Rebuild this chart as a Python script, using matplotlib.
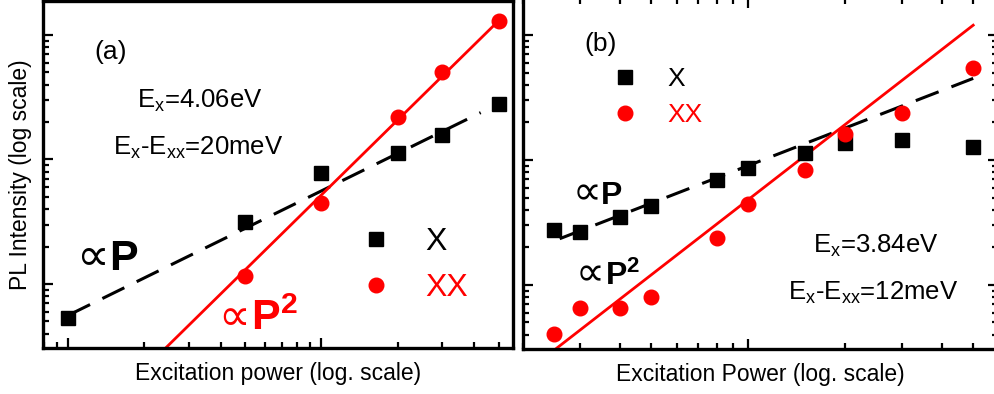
import numpy as np
import matplotlib
matplotlib.use('Agg')
import matplotlib.pyplot as plt

plt.rcParams['font.family'] = ['Liberation Sans', 'DejaVu Sans']
plt.rcParams['mathtext.fontset'] = 'custom'
plt.rcParams['mathtext.rm'] = 'Liberation Sans'
plt.rcParams['mathtext.it'] = 'Liberation Sans:italic'
plt.rcParams['mathtext.bf'] = 'Liberation Sans:bold'

# ---- datos panel (a) ----
a_x_power = [1, 5, 10, 20, 30, 50]
a_x_int = [5.3, 31.5, 78, 113, 157, 279]
a_xx_power = [5, 10, 20, 30, 50]
a_xx_int = [11.6, 44.7, 219, 503, 1290]
a_fit_x = [1, 42.5]        # I = 5.6 * P
a_fit_xx = [2.0, 52]       # I = 0.52 * P^2

# ---- datos panel (b) ----
b_power = [0.25, 0.3, 0.4, 0.5, 0.8, 1.0, 1.5, 2, 3, 5]
b_x_int = [27.7, 26.7, 35.2, 42.4, 69.7, 87, 113, 136, 144, 128]
b_xx_int = [4.04, 6.5, 6.5, 8.0, 23.8, 44, 82.4, 160, 236, 543]
b_fit_x = [0.26, 5.0]      # I = 90 * P
b_fit_xx = [0.24, 5.0]     # I = 48 * P^2

W, H = 995, 394
fig = plt.figure(figsize=(W / 100, H / 100), dpi=100)

def px(x, y):
    return x / W, 1 - y / H

ax1 = fig.add_axes([43 / W, 1 - 348 / H, 470 / W, 347 / H])
ax2 = fig.add_axes([523 / W, 1 - 349 / H, 475 / W, 351 / H])

red = '#ff0000'

# panel (a)
fx = np.array(a_fit_x)
ax1.plot(fx, 5.6 * fx, color='black', lw=2.2, dashes=(8, 4.5))
fxx = np.array(a_fit_xx)
ax1.plot(fxx, 0.52 * fxx ** 2, color=red, lw=2)
ax1.plot(a_x_power, a_x_int, 's', color='black', ms=10, label='X')
ax1.plot(a_xx_power, a_xx_int, 'o', color=red, ms=10.5, label='XX')
ax1.set_xlim(0.796, 57)
ax1.set_ylim(10 ** 0.486, 10 ** 3.273)

# panel (b)
bx = np.array(b_fit_x)
ax2.plot(bx, 90 * bx, color='black', lw=2.2, dashes=(8, 4.5))
bxx = np.array(b_fit_xx)
ax2.plot(bxx, 48 * bxx ** 2, color=red, lw=2)
ax2.plot(b_power, b_x_int, 's', color='black', ms=10, label='X')
ax2.plot(b_power, b_xx_int, 'o', color=red, ms=10.5, label='XX')
ax2.set_xlim(0.2, 5.97)
ax2.set_ylim(10 ** 0.486, 10 ** 3.297)

for ax in (ax1, ax2):
    ax.set_xscale('log')
    ax.set_yscale('log')
    for s in ax.spines.values():
        s.set_linewidth(2.4)
    ax.tick_params(which='both', direction='in', width=1.6,
                   labelbottom=False, labelleft=False)
    ax.tick_params(which='major', length=7)
    ax.tick_params(which='minor', length=4)
ax2.tick_params(which='both', top=True, right=True)

ax1.set_ylabel('PL Intensity (log scale)', fontsize=16.5)
ax1.yaxis.set_label_coords(-0.024, 0.5)
ax1.set_xlabel('Excitation power (log. scale)', fontsize=16.5)
ax1.xaxis.set_label_coords(0.5, -0.04)
ax2.set_xlabel('Excitation Power (log. scale)', fontsize=16.5)
ax2.xaxis.set_label_coords(0.5, -0.04)

# textos panel (a)
fig.text(*px(111, 52), '(a)', fontsize=19, ha='center', va='center')
fig.text(*px(137, 108), r'E$_\mathrm{x}$=4.06eV', fontsize=18.5, ha='left', va='baseline')
fig.text(*px(113, 155), r'E$_\mathrm{x}$-E$_\mathrm{xx}$=20meV', fontsize=18.5, ha='left', va='baseline')
fig.text(*px(109, 270), '\u221d', fontsize=33, ha='right', va='baseline')
fig.text(*px(109, 270), 'P', fontsize=31, fontweight='bold', ha='left', va='baseline')
fig.text(*px(250, 330), '\u221d', fontsize=32, ha='right', va='baseline', color=red)
fig.text(*px(251, 330), r'$\mathbf{P}^{\mathbf{2}}$', fontsize=31, ha='left', va='baseline', color=red)

leg1 = ax1.legend(loc='center left', bbox_to_anchor=px(360, 265), bbox_transform=fig.transFigure,
                  frameon=False, fontsize=23, handlelength=1.0, handletextpad=1.05,
                  labelspacing=0.5, labelcolor='linecolor', borderpad=0, borderaxespad=0)

# textos panel (b)
fig.text(*px(601, 44), '(b)', fontsize=19, ha='center', va='center')
fig.text(*px(813, 253), r'E$_\mathrm{x}$=3.84eV', fontsize=18.5, ha='left', va='baseline')
fig.text(*px(788, 300), r'E$_\mathrm{x}$-E$_\mathrm{xx}$=12meV', fontsize=18.5, ha='left', va='baseline')
fig.text(*px(601, 204), '\u221d', fontsize=29, ha='right', va='baseline')
fig.text(*px(601, 204), 'P', fontsize=23, fontweight='bold', ha='left', va='baseline')
fig.text(*px(604, 285), '\u221d', fontsize=29, ha='right', va='baseline')
fig.text(*px(605, 285), r'$\mathbf{P}^{\mathbf{2}}$', fontsize=23, ha='left', va='baseline')

leg2 = ax2.legend(loc='center left', bbox_to_anchor=px(612, 97), bbox_transform=fig.transFigure,
                  frameon=False, fontsize=19, handlelength=1.0, handletextpad=1.1,
                  labelspacing=0.45, labelcolor='linecolor', borderpad=0, borderaxespad=0)

fig.savefig('out.png', dpi=100)
